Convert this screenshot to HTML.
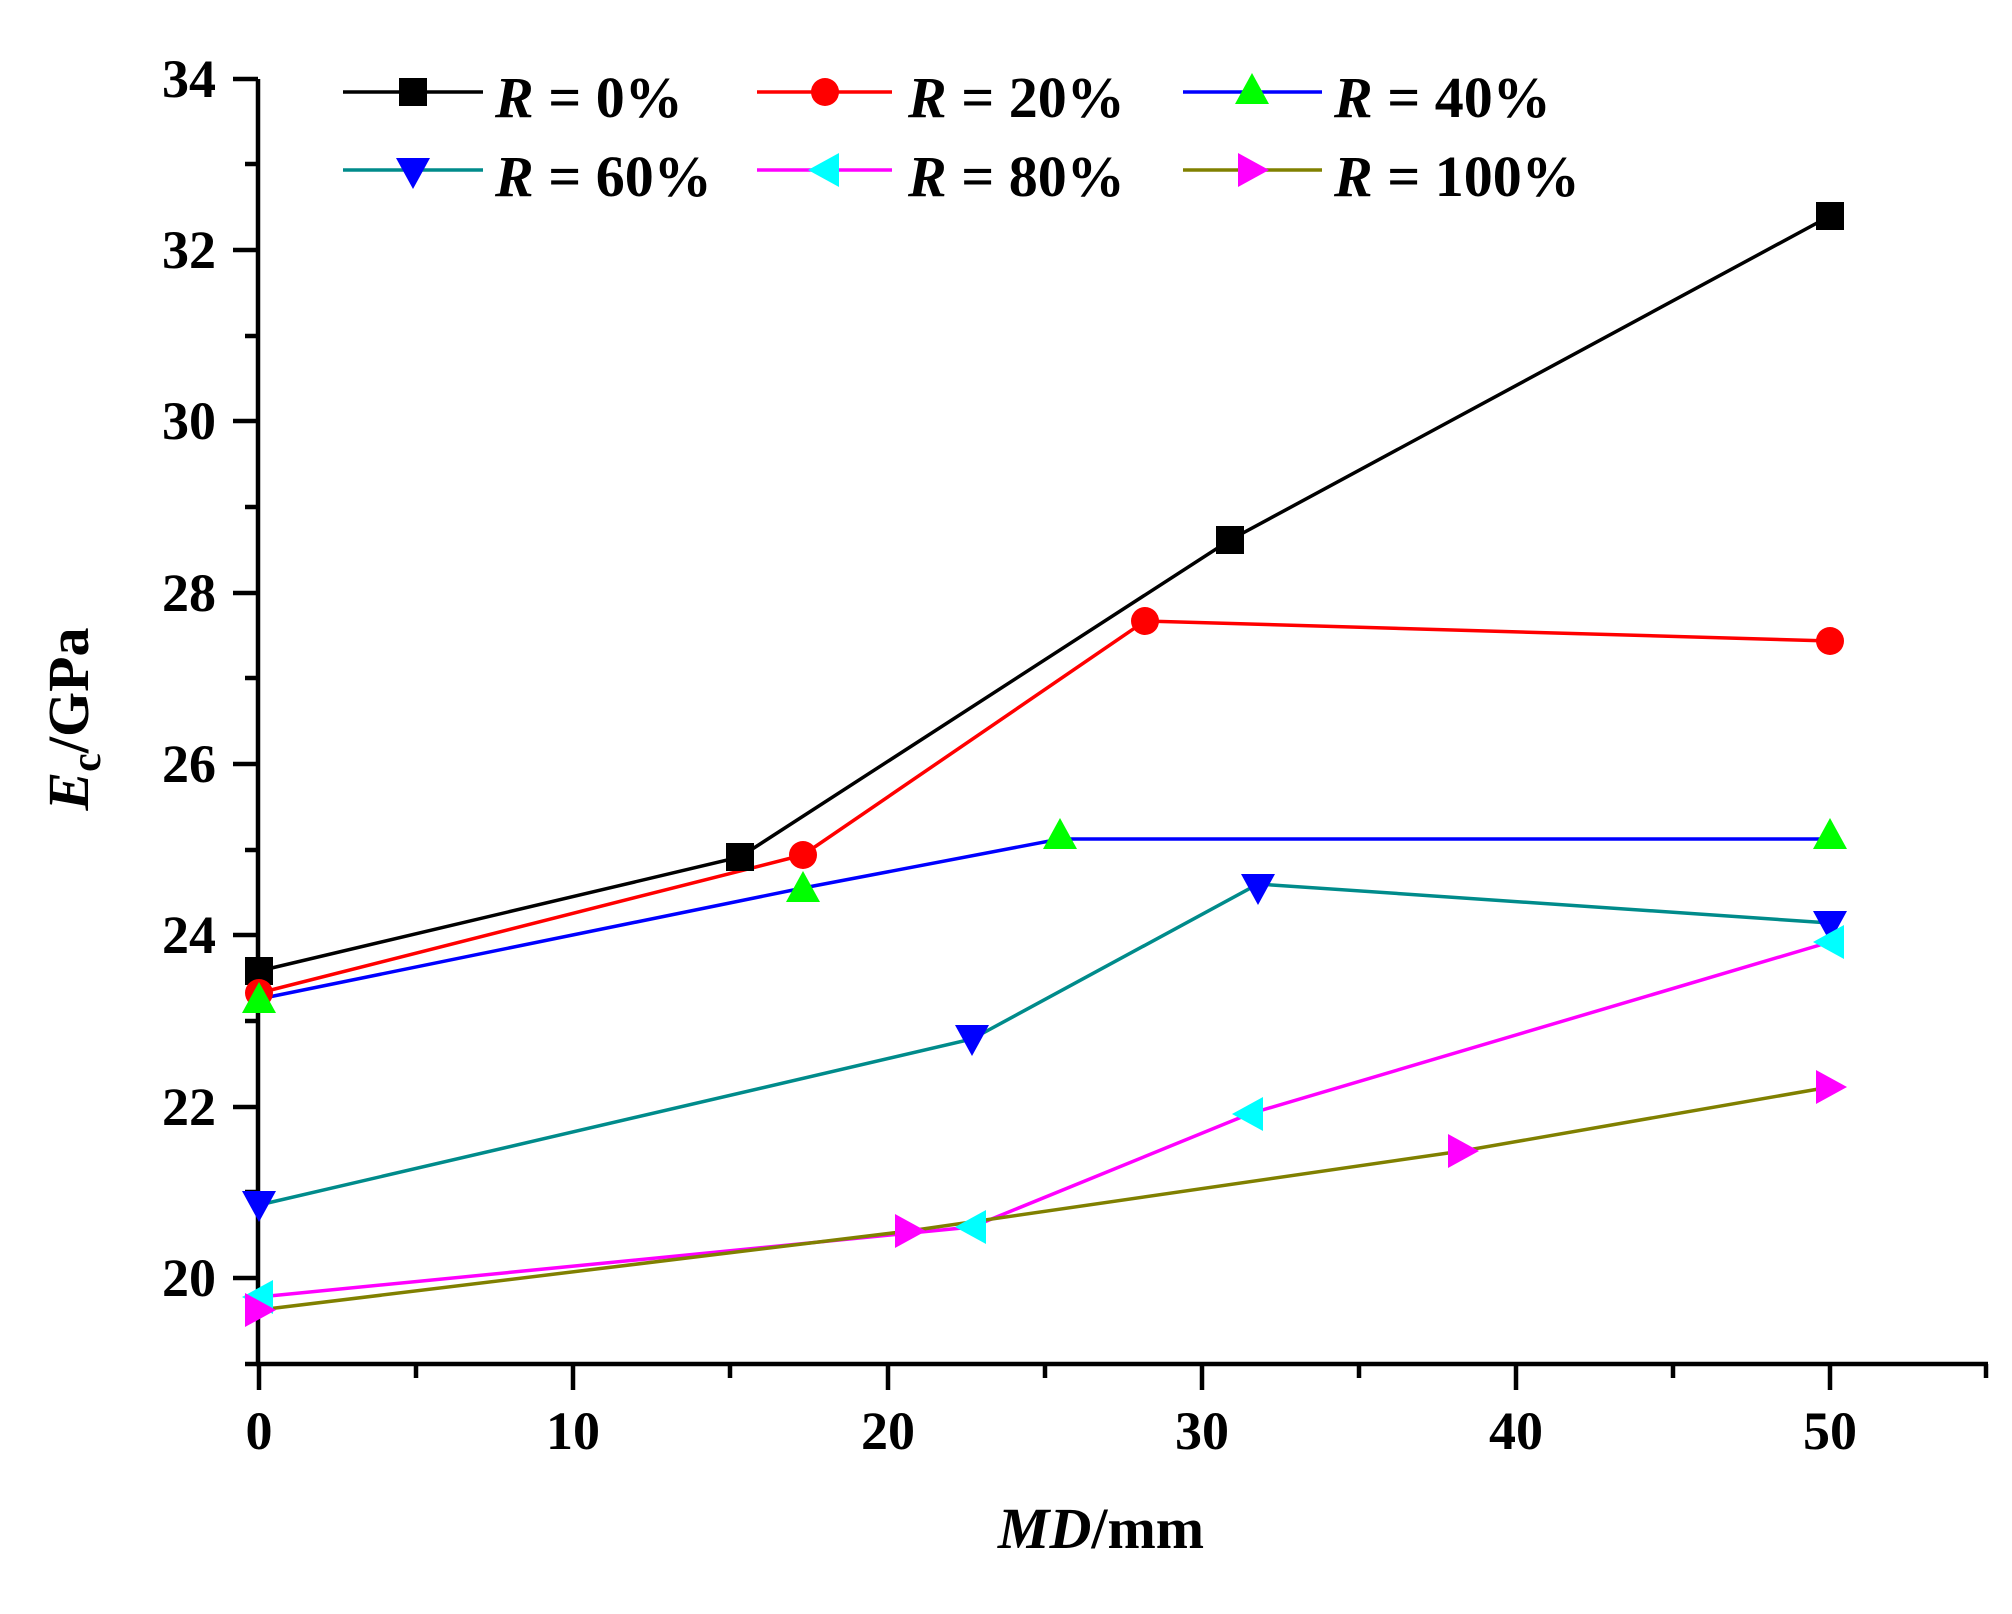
<!DOCTYPE html>
<html><head><meta charset="utf-8"><style>body{margin:0;background:#fff}svg text{font-family:"Liberation Serif","Times New Roman",serif;font-weight:bold}</style></head>
<body>
<svg width="2012" height="1609" xmlns="http://www.w3.org/2000/svg">
<rect width="2012" height="1609" fill="#fff"/>
<defs>
<rect id="sq" x="-14" y="-14" width="28" height="28" fill="#000"/>
<circle id="ci" r="14" fill="#f00"/>
<polygon id="tu" points="0,-17 17,14 -17,14" fill="#0f0"/>
<polygon id="td" points="0,17 17,-14 -17,-14" fill="#00f"/>
<polygon id="tl" points="-17,0 14,-17 14,17" fill="#0ff"/>
<polygon id="tr" points="17,0 -14,-17 -14,17" fill="#f0f"/>
</defs>
<g stroke="#000" stroke-width="4.5" fill="none">
<line x1="258" y1="79" x2="258" y2="1366"/>
<line x1="256" y1="1364" x2="1988" y2="1364"/>
<line x1="1986" y1="1364" x2="1986" y2="1378"/>
<path d="M233 79H258M233 250H258M233 421H258M233 593H258M233 764H258M233 935H258M233 1107H258M233 1278H258M245 164H258M245 336H258M245 507H258M245 678H258M245 850H258M245 1021H258M245 1192H258M245 1364H258"/>
<path d="M259 1364V1390M573 1364V1390M888 1364V1390M1202 1364V1390M1516 1364V1390M1830 1364V1390M416 1364V1378M730 1364V1378M1045 1364V1378M1359 1364V1378M1673 1364V1378"/>
</g>
<g font-size="54" text-anchor="end">
<text x="216" y="97">34</text><text x="216" y="268">32</text><text x="216" y="439">30</text><text x="216" y="611">28</text><text x="216" y="782">26</text><text x="216" y="953">24</text><text x="216" y="1125">22</text><text x="216" y="1296">20</text>
</g>
<g font-size="54" text-anchor="middle">
<text x="259" y="1449">0</text><text x="573" y="1449">10</text><text x="888" y="1449">20</text><text x="1202" y="1449">30</text><text x="1516" y="1449">40</text><text x="1830" y="1449">50</text>
</g>
<text x="1101" y="1548" font-size="58" text-anchor="middle"><tspan font-style="italic">MD</tspan>/mm</text>
<text transform="translate(88,719) rotate(-90)" font-size="58" text-anchor="middle"><tspan font-style="italic">E</tspan><tspan font-size="42" dy="12">c</tspan><tspan dy="-12">/GPa</tspan></text>
<g fill="none" stroke-width="3.5">
<polyline stroke="#000" points="259,971 740,857 1230,540 1830,216"/>
<polyline stroke="#f00" points="259,993 803,855 1145,621 1830,641"/>
<polyline stroke="#00f" points="259,999 803,888 1060,839 1830,839"/>
<polyline stroke="#008b8b" points="259,1205 972,1039 1258,884 1830,923"/>
<polyline stroke="#f0f" points="259,1297 972,1227 1249,1114 1830,942"/>
<polyline stroke="#808000" points="259,1310 909,1231 1462,1151 1830,1087"/>
</g>
<use href="#sq" x="259" y="971"/><use href="#sq" x="740" y="857"/><use href="#sq" x="1230" y="540"/><use href="#sq" x="1830" y="216"/>
<use href="#ci" x="259" y="993"/><use href="#ci" x="803" y="855"/><use href="#ci" x="1145" y="621"/><use href="#ci" x="1830" y="641"/>
<use href="#tu" x="259" y="999"/><use href="#tu" x="803" y="888"/><use href="#tu" x="1060" y="835"/><use href="#tu" x="1830" y="835"/>
<use href="#td" x="259" y="1205"/><use href="#td" x="972" y="1039"/><use href="#td" x="1258" y="888"/><use href="#td" x="1830" y="925"/>
<use href="#tl" x="259" y="1297"/><use href="#tl" x="972" y="1227"/><use href="#tl" x="1249" y="1114"/><use href="#tl" x="1830" y="942"/>
<use href="#tr" x="259" y="1310"/><use href="#tr" x="909" y="1231"/><use href="#tr" x="1462" y="1151"/><use href="#tr" x="1830" y="1087"/>
<g stroke-width="3.5">
<line x1="343" y1="92" x2="483" y2="92" stroke="#000"/>
<line x1="757" y1="92" x2="892" y2="92" stroke="#f00"/>
<line x1="1183" y1="92" x2="1322" y2="92" stroke="#00f"/>
<line x1="343" y1="170" x2="483" y2="170" stroke="#008b8b"/>
<line x1="757" y1="170" x2="892" y2="170" stroke="#f0f"/>
<line x1="1183" y1="170" x2="1322" y2="170" stroke="#808000"/>
</g>
<use href="#sq" x="413" y="92"/><use href="#ci" x="825" y="92"/><use href="#tu" x="1252" y="90"/>
<use href="#td" x="413" y="172"/><use href="#tl" x="825" y="170"/><use href="#tr" x="1252" y="170"/>
<g font-size="58">
<text x="495" y="117"><tspan font-style="italic">R</tspan> = 0%</text>
<text x="908" y="117"><tspan font-style="italic">R</tspan> = 20%</text>
<text x="1334" y="117"><tspan font-style="italic">R</tspan> = 40%</text>
<text x="495" y="196"><tspan font-style="italic">R</tspan> = 60%</text>
<text x="908" y="196"><tspan font-style="italic">R</tspan> = 80%</text>
<text x="1334" y="196"><tspan font-style="italic">R</tspan> = 100%</text>
</g>
</svg>
</body></html>
